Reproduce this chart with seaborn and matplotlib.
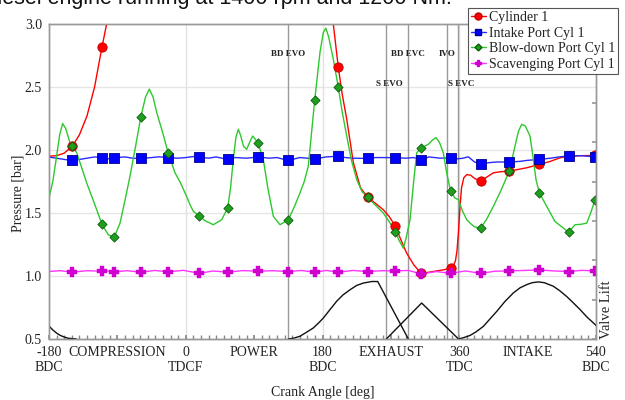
import matplotlib
matplotlib.use("Agg")
import matplotlib.pyplot as plt
from matplotlib.lines import Line2D
from matplotlib.ticker import MultipleLocator
import seaborn as sns
import numpy as np

# ---------------- data ----------------
tick_pos = [-180, -90, 0, 90, 180, 270, 360, 450, 540]
tick_labels = ["-180\nBDC", "COMPRESSION", "0\nTDCF", "POWER", "180\nBDC",
               "EXHAUST", "360\nTDC", "INTAKE", "540\nBDC"]
ytick_vals = [0.5, 1.0, 1.5, 2.0, 2.5, 3.0]

# marker crank angles (shared by all pressure series)
mark_deg = [-149.3, -110.2, -94, -59.3, -23, 17.8, 55.2, 95.1, 135, 169.7,
            200.8, 239.5, 275.9, 310.1, 348.8, 388.2, 425.9, 465.4, 504, 538.7]

# Cylinder 1 pressure
cyl_deg = [-180, -170, -160, -149.3, -140, -130, -120, -110.2, -94, -59.3, -23, 0, 10,
           17.8, 55.2, 95.1, 135, 169.7, 185, 194.2, 200.8, 206, 211.9, 220.6, 230,
           239.5, 250, 260, 268, 275.9, 283, 290.8, 300, 309.7, 320, 330, 340, 347.8,
           352, 355, 357, 359, 361, 363, 366, 370, 375, 380, 388.2, 395, 404.9, 415,
           425.9, 448.8, 465.4, 480, 492.6, 504, 520, 538.7, 540]
cyl_p = [1.951, 1.955, 1.975, 2.03, 2.12, 2.27, 2.5, 2.82, 3.3, 5.5, 15, 40, 90,
         80, 15, 6, 4.5, 4.0, 3.5, 3.0, 2.656, 2.44, 2.244, 1.9, 1.7,
         1.624, 1.575, 1.526, 1.47, 1.396, 1.29, 1.181, 1.09, 1.02, 1.03, 1.04, 1.05, 1.06,
         1.08, 1.12, 1.2, 1.35, 1.55, 1.7, 1.78, 1.805, 1.8, 1.775, 1.752, 1.78, 1.819, 1.828,
         1.832, 1.859, 1.885, 1.91, 1.938, 1.951, 1.955, 1.957, 1.957]
cyl_mark = [2.03, 2.82, 3.3, 5.5, 15, 80, 15, 6, 4.5, 4.0,
            2.656, 1.624, 1.396, 1.02, 1.06, 1.752, 1.832, 1.885, 1.951, 1.957]

# Intake port pressure
intake_deg = [-180, -170, -160, -149.3, -140, -130, -120, -110.2, -102, -94, -80, -70,
              -59.3, -45, -35, -23, -10, 0, 10, 17.8, 30, 40, 55.2, 65, 80, 95.1, 110,
              120, 135, 150, 160, 169.7, 185, 200.8, 210, 220, 239.5, 250, 260, 275.9,
              290, 300, 310.1, 320, 335, 348.8, 358, 365, 372, 380, 388.2, 400, 410,
              425.9, 440, 450, 465.4, 480, 495, 504, 520, 538.7, 540]
intake_p = [1.944, 1.935, 1.925, 1.917, 1.925, 1.935, 1.945, 1.939, 1.93, 1.939, 1.945, 1.935,
            1.933, 1.94, 1.946, 1.939, 1.935, 1.94, 1.948, 1.944, 1.935, 1.945, 1.925, 1.94,
            1.935, 1.944, 1.935, 1.94, 1.917, 1.94, 1.935, 1.93, 1.945, 1.951, 1.94, 1.935,
            1.933, 1.94, 1.94, 1.939, 1.935, 1.94, 1.92, 1.945, 1.935, 1.939, 1.93, 1.935,
            1.946, 1.905, 1.891, 1.9, 1.905, 1.904, 1.91, 1.918, 1.925, 1.935, 1.948, 1.951,
            1.955, 1.946, 1.946]
intake_mark = [1.917, 1.939, 1.939, 1.933, 1.939, 1.944, 1.925, 1.944, 1.917, 1.93,
               1.951, 1.933, 1.939, 1.92, 1.939, 1.891, 1.904, 1.925, 1.951, 1.946]

# Blow-down port pressure
blow_deg = [-180, -175, -170, -166, -162, -158, -152.4, -149.3, -143.5, -137, -130.4, -123,
            -117.2, -110.2, -101.9, -94, -86.5, -80, -73.4, -66, -59.3, -53, -48, -43,
            -38.2, -30, -23, -14.1, -7, 1.3, 5.6, 10, 17.8, 25, 36.3, 47.3, 55.2, 59,
            62.6, 66, 69.2, 72, 76, 80.2, 84, 88.1, 95.1, 102.1, 108, 115.3, 124.1, 135,
            143, 150.4, 156, 161.3, 165, 169.7, 176.7, 181, 184.4, 188, 194.2, 200.8, 206,
            211.9, 218, 225, 232, 239.5, 250, 260, 268, 275.9, 281, 286.4, 290, 295.2,
            300, 304, 310.1, 319.3, 325, 329.4, 334, 339, 344, 348.8, 354, 358.8, 364,
            369.8, 374.2, 380, 388.2, 396, 404.9, 415, 425.9, 433.4, 438, 442.2, 447,
            453.1, 457, 461, 465.4, 475.1, 486, 495, 504, 512.4, 520, 527.8, 533, 538.7, 540]
blow_p = [1.62, 1.75, 1.95, 2.12, 2.21, 2.17, 2.058, 2.03, 1.978, 1.86, 1.739, 1.62,
          1.526, 1.409, 1.327, 1.309, 1.42, 1.6, 1.792, 2.03, 2.258, 2.42, 2.483, 2.42,
          2.297, 2.13, 1.973, 1.819, 1.74, 1.63, 1.566, 1.513, 1.478, 1.44, 1.407, 1.447,
          1.54, 1.7, 1.925, 2.1, 2.164, 2.12, 2.03, 2.005, 2.06, 2.111, 2.058, 1.925, 1.7,
          1.473, 1.407, 1.447, 1.55, 1.66, 1.75, 1.872, 2.1, 2.393, 2.776, 2.93, 2.967, 2.9,
          2.722, 2.497, 2.3, 2.111, 1.92, 1.766, 1.67, 1.624, 1.56, 1.5, 1.43, 1.351, 1.28,
          1.221, 1.3, 1.447, 1.75, 1.978, 2.018, 2.045, 2.08, 2.098, 2.06, 1.978, 1.8, 1.672,
          1.62, 1.606, 1.52, 1.447, 1.42, 1.39, 1.38, 1.45, 1.553, 1.68, 1.832, 2.031, 2.15,
          2.204, 2.19, 2.111, 1.95, 1.766, 1.66, 1.553, 1.433, 1.39, 1.348, 1.407, 1.41,
          1.42, 1.5, 1.606, 1.62]
blow_mark = [2.03, 1.409, 1.309, 2.258, 1.973, 1.478, 1.54, 2.058, 1.447, 2.393,
             2.497, 1.624, 1.351, 2.018, 1.672, 1.38, 1.832, 1.66, 1.348, 1.606]

# Scavenging port pressure
scav_mark = [1.03, 1.038, 1.033, 1.03, 1.033, 1.021, 1.03, 1.038, 1.035, 1.03,
             1.03, 1.035, 1.04, 1.017, 1.021, 1.021, 1.04, 1.048, 1.035, 1.04]
scav_deg = [-180, -165, -149.3, -130, -110.2, -102, -94, -77, -59.3, -41, -23, -3, 17.8,
            36, 55.2, 75, 95.1, 115, 135, 152, 169.7, 185, 200.8, 220, 239.5, 258, 275.9,
            293, 310.1, 330, 348.8, 368, 388.2, 407, 425.9, 445, 465.4, 485, 504, 521,
            538.7, 540]
scav_p = [1.036, 1.042, 1.03, 1.042, 1.038, 1.04, 1.033, 1.042, 1.03, 1.044, 1.033, 1.045,
          1.021, 1.04, 1.03, 1.043, 1.038, 1.042, 1.035, 1.044, 1.03, 1.044, 1.03, 1.044,
          1.035, 1.042, 1.04, 1.044, 1.017, 1.035, 1.021, 1.04, 1.021, 1.038, 1.04, 1.044,
          1.048, 1.04, 1.035, 1.045, 1.04, 1.04]

# valve lifts (right axis)
exh_deg = [135, 142, 150.4, 158, 167.9, 175, 181, 190, 198.7, 207, 216.2, 225, 233.7, 244.8,
           252.7, 293]
exh_lift = [0, 0.02, 0.07, 0.16, 0.28, 0.41, 0.53, 0.75, 0.96, 1.12, 1.25, 1.36, 1.42, 1.46,
            1.46, 0]
scv_deg = [264, 310.5, 359]
scv_lift = [0, 0.914, 0]
int_deg = [359, 365, 374.2, 382, 391.7, 400, 409.3, 420, 431.2, 440, 448.8, 456, 464.1,
           472, 483.8, 492, 501.4, 510, 518.9, 528, 538.7, 540]
int_lift = [0, 0.03, 0.09, 0.18, 0.32, 0.5, 0.7, 0.95, 1.17, 1.3, 1.38, 1.43, 1.45,
            1.43, 1.34, 1.23, 1.08, 0.92, 0.75, 0.56, 0.37, 0.34]
int_tail_deg = [-180, -175, -170, -165, -160, -155, -150, -144]
int_tail_lift = [0.33, 0.23, 0.15, 0.09, 0.05, 0.02, 0.01, 0]

event_names = ["BD EVO", "S EVO", "BD EVC", "IVO", "S EVC"]
event_deg = [135, 264, 293, 344.5, 359]
event_row = [0, 1, 0, 0, 1]

series_names = ["Cylinder 1", "Intake Port Cyl 1", "Blow-down Port Cyl 1",
                "Scavenging Port Cyl 1"]

# ---------------- style ----------------
sns.set_theme(style="white")
plt.rcParams['font.family'] = ['Liberation Serif', 'DejaVu Serif']

fig = plt.figure(figsize=(6.25, 4), dpi=100)
ax = fig.add_axes([49 / 625, 61 / 400, 547 / 625, 315 / 400])

ax.set_xlim(-180, 540)
ax.set_ylim(0.5, 3.0)

# light grid
for v in ytick_vals[1:-1]:
    ax.axhline(v, color="#e6e6e6", lw=1, zorder=0)
for v in [0, 180, 360]:
    ax.axvline(v, color="#e2e2e2", lw=1, zorder=0)

# event lines
for d in event_deg:
    ax.axvline(d, color="#9a9a9a", lw=1, zorder=1)
row_y = [2.765, 2.52]
row_dx = {0: 0, 1: 4}
for name, d, r in zip(event_names, event_deg, event_row):
    ax.text(d + row_dx[r], row_y[r], name, ha="center", va="center", fontsize=6.5,
            fontweight="bold", color="#222222", zorder=3)

colors = {"cyl": "#ff0000", "int": "#2a2aff", "blow": "#2ec82e", "scav": "#ff33ff"}

sns.lineplot(x=cyl_deg, y=cyl_p, ax=ax, color=colors["cyl"], lw=1, sort=False,
             estimator=None, zorder=4)
sns.lineplot(x=intake_deg, y=intake_p, ax=ax, color=colors["int"], lw=1, sort=False,
             estimator=None, zorder=4)
sns.lineplot(x=blow_deg, y=blow_p, ax=ax, color=colors["blow"], lw=1, sort=False,
             estimator=None, zorder=4)
sns.lineplot(x=scav_deg, y=scav_p, ax=ax, color=colors["scav"], lw=1, sort=False,
             estimator=None, zorder=4)

sns.scatterplot(x=mark_deg, y=cyl_mark, ax=ax, marker="o", s=45, color="#ff0000",
                edgecolor="#c00000", linewidth=0.6, zorder=5)
sns.scatterplot(x=mark_deg, y=intake_mark, ax=ax, marker="s", s=45, color="#0000ff",
                edgecolor="#00008a", linewidth=0.6, zorder=5)
sns.scatterplot(x=mark_deg, y=blow_mark, ax=ax, marker="D", s=22, color="#1ea01e",
                edgecolor="#0b5a0b", linewidth=0.6, zorder=6)
sns.scatterplot(x=mark_deg, y=scav_mark, ax=ax, marker="P", s=45, color="#d000d0",
                edgecolor="#d000d0", linewidth=0.3, zorder=5)

ax.set_yticks(ytick_vals)
ax.set_yticklabels([f"{v:.1f}" for v in ytick_vals])
ax.set_xticks(tick_pos)
ax.set_xticklabels(tick_labels, linespacing=1.2)
ax.xaxis.set_minor_locator(MultipleLocator(10))
ax.tick_params(axis="y", length=0, pad=5, labelsize=10, labelcolor="#222222")
ax.tick_params(axis="x", which="both", direction="in", length=3, color="#888888",
               pad=5, labelsize=10, labelcolor="#222222", bottom=True)
ax.set_xlabel("Crank Angle [deg]", fontsize=10, color="#222222", labelpad=9)
ax.set_ylabel("Pressure [bar]", fontsize=10, color="#222222")
ax.yaxis.set_label_coords(-0.045, 0.463)
for s in ax.spines.values():
    s.set_color("#999999")
    s.set_linewidth(1)
ax.spines["bottom"].set_color("#808080")

# valve lift axis
ax2 = ax.twinx()
ax2.set_ylim(0, 8)
ax2.set_xlim(-180, 540)
for dd, ll in [(exh_deg, exh_lift), (scv_deg, scv_lift), (int_deg, int_lift),
               (int_tail_deg, int_tail_lift)]:
    sns.lineplot(x=dd, y=ll, ax=ax2, color="#111111", lw=1, sort=False, estimator=None)
ax2.set_yticks(range(0, 9))
ax2.tick_params(axis="y", direction="in", length=3, color="#999999", labelright=False,
                right=True)
ax2.set_ylabel("Valve Lift", loc="bottom", fontsize=10.5, color="#222222", labelpad=3)
ax2.grid(False)
for s in ax2.spines.values():
    s.set_color("#999999")
    s.set_linewidth(1)

# legend
handles = [
    Line2D([0], [0], color=colors["cyl"], lw=1, marker="o", ms=5,
           markerfacecolor="#ff0000", markeredgecolor="#c00000"),
    Line2D([0], [0], color=colors["int"], lw=1, marker="s", ms=5,
           markerfacecolor="#0000ff", markeredgecolor="#00008a"),
    Line2D([0], [0], color=colors["blow"], lw=1, marker="D", ms=3.5,
           markerfacecolor="#1ea01e", markeredgecolor="#0b5a0b"),
    Line2D([0], [0], color=colors["scav"], lw=1, marker="P", ms=5,
           markerfacecolor="#d000d0", markeredgecolor="#d000d0"),
]
leg = fig.legend(handles, series_names, loc="upper left",
                 bbox_to_anchor=(468 / 625, 1 - 8 / 400), frameon=True, fancybox=False,
                 edgecolor="#555555", framealpha=1, fontsize=10, handlelength=1.1,
                 handletextpad=0.2, labelspacing=0.2, borderpad=0.2, borderaxespad=0)
leg.get_frame().set_linewidth(0.8)
for t in leg.get_texts():
    t.set_color("#222222")

# title (cut by the top edge, as in the source)
fig.text(452 / 625, 1 - 4 / 400, "Diesel engine running at 1400 rpm and 1200 Nm.",
         ha="right", va="baseline", fontsize=15.5, family=["Liberation Sans", "DejaVu Sans"],
         color="#111111")

fig.savefig("out.png", dpi=100)
